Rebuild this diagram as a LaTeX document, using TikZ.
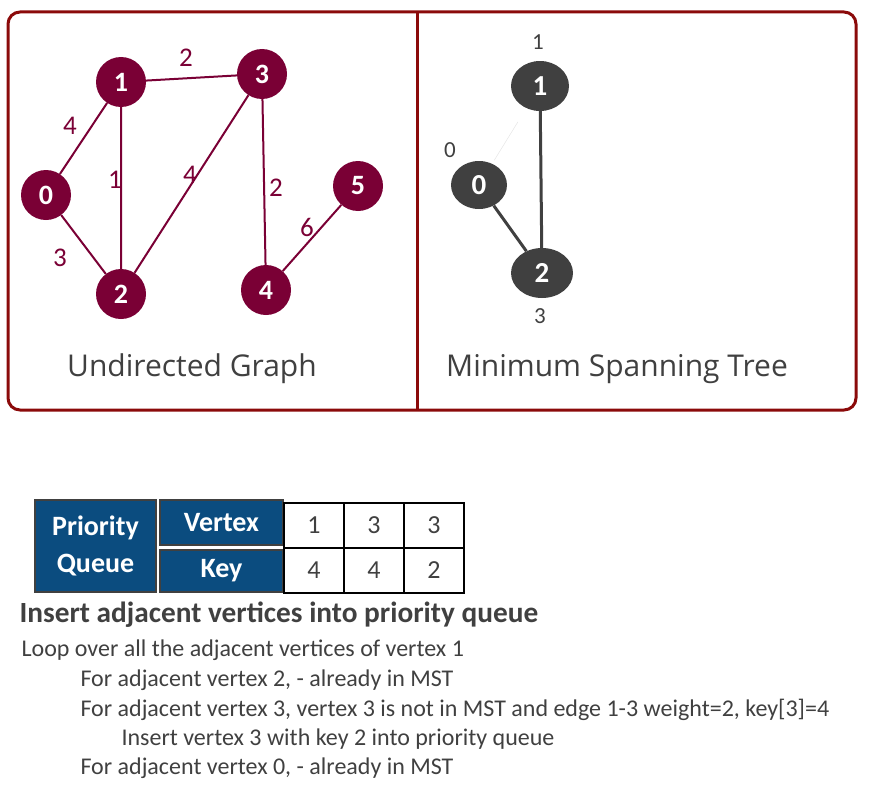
\documentclass[tikz,border=0pt]{standalone}
\usepackage{fontspec}
\setmainfont{Carlito}
\newfontfamily\titlefont{Open Sans}
\usetikzlibrary{shapes.geometric}
\definecolor{maroon}{HTML}{7A0035}
\definecolor{framered}{HTML}{8B0A0A}
\definecolor{navy}{HTML}{0B4C7F}
\definecolor{inkgray}{HTML}{404040}

\begin{document}
\begin{tikzpicture}[x=1pt,y=-1pt,
  vtx/.style={circle,fill=maroon,minimum size=50pt,inner sep=0pt,text=white,font=\fontsize{28}{30}\selectfont\bfseries},
  wt/.style={text=maroon,font=\fontsize{27}{29}\selectfont},
  mvtx/.style={ellipse,fill=inkgray,minimum width=58pt,minimum height=50pt,inner sep=0pt,text=white,font=\fontsize{29}{31}\selectfont\bfseries},
  key/.style={text=inkgray,font=\fontsize{23}{26}\selectfont},
  caption/.style={text=inkgray,font=\titlefont\fontsize{30}{34}\selectfont},
  navybox/.style={fill=navy,draw=inkgray,line width=1.5pt,text=white,align=center,inner sep=0pt,font=\fontsize{28}{37}\selectfont\bfseries},
  cell/.style={draw=black,line width=2pt,minimum width=60pt,minimum height=45pt,inner sep=0pt,text=inkgray,font=\fontsize{26}{28}\selectfont},
  line/.style={anchor=west,text=inkgray,font=\fontsize{24}{26}\selectfont}]
\useasboundingbox (0,0) rectangle (869,800);
% frame
\draw[framered,line width=3pt,rounded corners=12pt] (8,12) rectangle (856,410);
\draw[framered,line width=3pt] (417,12)--(417,410);
% undirected graph
\node[vtx] (n0) at (46,195) {0};
\node[vtx] (n1) at (121,82) {1};
\node[vtx] (n2) at (121,294) {2};
\node[vtx] (n3) at (262,74) {3};
\node[vtx] (n4) at (266,290) {4};
\node[vtx] (n5) at (358,186) {5};
\draw[maroon,line width=2pt] (n1)--(n3) (n0)--(n1) (n1)--(n2) (n0)--(n2) (n3)--(n2) (n3)--(n4) (n5)--(n4);
\node[wt] at (186,58) {2};
\node[wt] at (70,126) {4};
\node[wt] at (115,180) {1};
\node[wt] at (190,175) {4};
\node[wt] at (276,188) {2};
\node[wt] at (307,227) {6};
\node[wt] at (60,258) {3};
\node[caption] at (192,369) {Undirected Graph};
% minimum spanning tree
\node[mvtx] (m1) at (540,86) {1};
\node[mvtx,minimum width=56pt,minimum height=48pt] (m0) at (479,185) {0};
\node[mvtx,minimum width=62pt] (m2) at (542,273) {2};
\draw[gray!20,line width=0.5pt,shorten <=4pt,shorten >=16pt] (m0)--(m1);
\draw[inkgray,line width=3pt] (m1)--(m2) (m0)--(m2);
\node[key] at (538,42) {1};
\node[key] at (450,150) {0};
\node[key] at (540,316) {3};
\node[caption] at (617,369) {Minimum Spanning Tree};
% priority queue
\node[navybox,minimum width=121pt,minimum height=92pt] (pq) at (95.5,546) {Priority\\Queue};
\node[navybox,minimum width=123pt,minimum height=45pt] (vx) at (221.5,522.5) {Vertex};
\node[navybox,minimum width=123pt,minimum height=42pt] (ky) at (221.5,571) {Key};
\foreach \v/\k [count=\i] in {1/4,3/4,3/2}{
  \node[cell] (v\i) at ({254+60*\i},525.5) {\v};
  \node[cell] (k\i) at ({254+60*\i},570.5) {\k};
}
% steps
\node[line,font=\fontsize{29.3}{32}\selectfont\bfseries] (head) at (16,615) {Insert adjacent vertices into priority queue};
\node[line] (s1) at (18,650) {Loop over all the adjacent vertices of vertex 1};
\node[line] (s2) at (77,680) {For adjacent vertex 2, - already in MST};
\node[line] (s3) at (77,710) {For adjacent vertex 3, vertex 3 is not in MST and edge 1-3 weight=2, key[3]=4};
\node[line] (s4) at (118,739) {Insert vertex 3 with key 2 into priority queue};
\node[line] (s5) at (77,768) {For adjacent vertex 0, - already in MST};
\end{tikzpicture}
\end{document}
